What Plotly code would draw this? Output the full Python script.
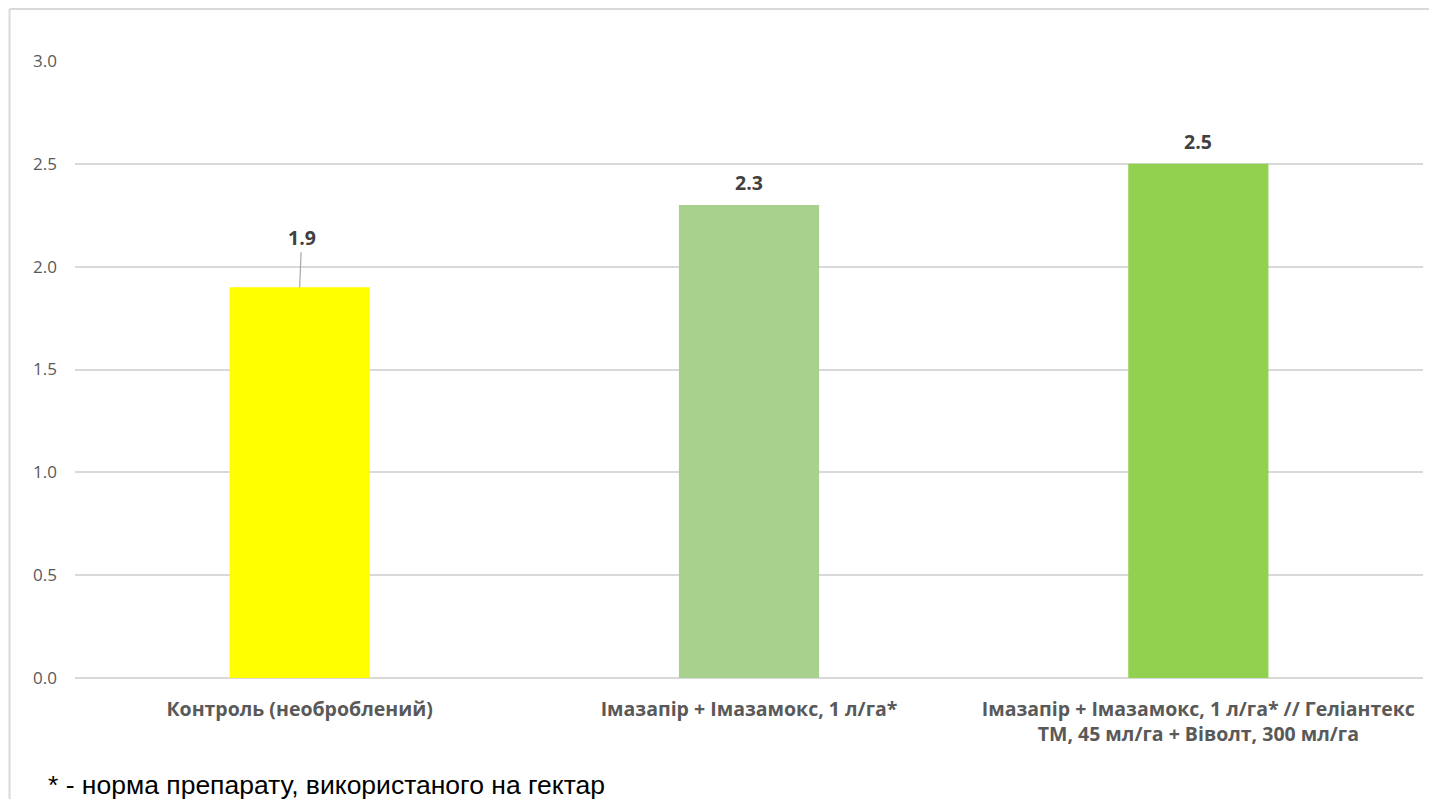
import plotly.graph_objects as go

categories = [
    "Контроль (необроблений)",
    "Імазапір + Імазамокс, 1 л/га*",
    "Імазапір + Імазамокс, 1 л/га* // Геліантекс<br>ТМ, 45 мл/га + Віволт, 300 мл/га",
]
values = [1.9, 2.3, 2.5]
colors = ["#FFFF00", "#A9D18E", "#92D050"]
y_ticks = [0.0, 0.5, 1.0, 1.5, 2.0, 2.5, 3.0]
footnote = "* - норма препарату, використаного на гектар"

# page has an 8px body margin; figure coordinates are shifted accordingly
OFF = 8
W, H = 1437 - 2 * OFF, 807 - 2 * OFF
L = 74.5 - OFF
T = 61 - OFF
plot_right = 1423 - OFF
plot_bottom = 678 - OFF
R = W - plot_right
B = H - plot_bottom
pw, ph = plot_right - L, plot_bottom - T

FONT = "Open Sans, Liberation Sans, sans-serif"

fig = go.Figure()
fig.add_trace(go.Bar(
    x=categories, y=values, marker=dict(color=colors, line=dict(width=0)),
    width=0.312, hoverinfo="x+y",
))

annotations = []
label_font = dict(family=FONT, size=19.5, color="#404040")
for i, (c, v) in enumerate(zip(categories, values)):
    if i == 0:
        annotations.append(dict(x=c, y=v, xref="x", yref="y", text=f"<b>{v:.1f}</b>",
                                showarrow=True, arrowhead=0, arrowwidth=1.2, arrowcolor="#A6A6A6",
                                ax=2, ay=-50, standoff=0, font=label_font))
    else:
        annotations.append(dict(x=c, y=v, xref="x", yref="y", text=f"<b>{v:.1f}</b>",
                                showarrow=False, yanchor="middle", yshift=22, font=label_font))

annotations.append(dict(x=(45 - OFF - L) / pw, y=(plot_bottom - (785 - OFF)) / ph,
                        xref="paper", yref="paper",
                        text=footnote, showarrow=False, xanchor="left", yanchor="middle",
                        font=dict(family="Liberation Sans, Arial, sans-serif", size=26.5, color="#000000")))

bx = (9 - OFF - L) / pw
by = (plot_bottom - 1) / ph
shapes = [
    dict(type="line", xref="paper", yref="paper", x0=bx, x1=bx, y0=by, y1=-0.3,
         line=dict(color="#D9D9D9", width=2)),
    dict(type="line", xref="paper", yref="paper", x0=bx, x1=1.05, y0=by, y1=by,
         line=dict(color="#D9D9D9", width=2)),
]

fig.update_layout(
    width=W, height=H,
    margin=dict(l=L, r=R, t=T, b=B, autoexpand=False),
    paper_bgcolor="white", plot_bgcolor="white",
    showlegend=False,
    annotations=annotations, shapes=shapes,
    xaxis=dict(showgrid=False, showline=False, ticks="",
               tickfont=dict(family=FONT, size=19.5, color="#595959"),
               tickprefix="<b>", ticksuffix="</b>", ticklabelstandoff=17),
    yaxis=dict(range=[0, 3.0], tickvals=y_ticks, tickformat=".1f",
               showgrid=True, gridcolor="#D9D9D9", gridwidth=1.5,
               zeroline=True, zerolinecolor="#D9D9D9", zerolinewidth=1.5,
               showline=False, ticks="", ticklabelstandoff=17,
               tickfont=dict(family=FONT, size=17, color="#595959")),
)

fig.write_html("out.html")
